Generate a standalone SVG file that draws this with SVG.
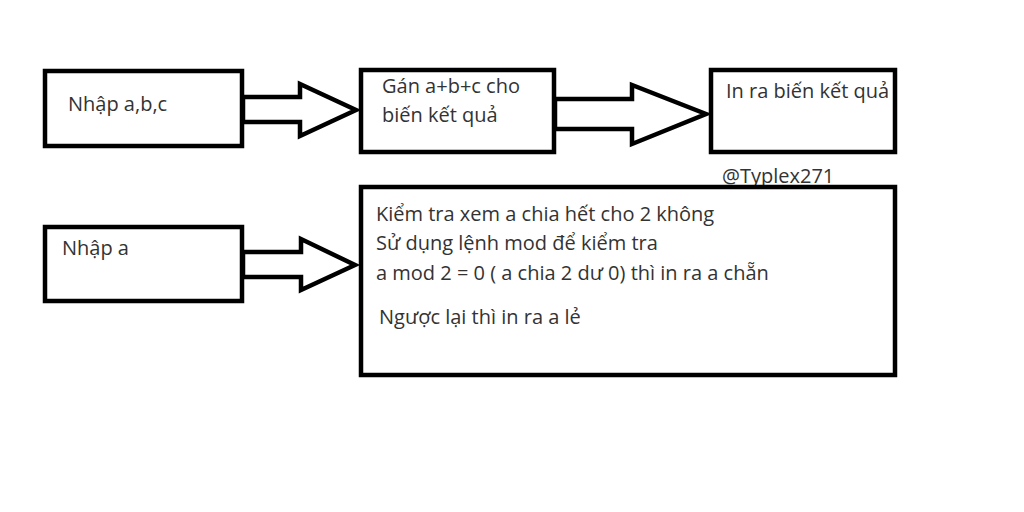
<svg xmlns="http://www.w3.org/2000/svg" width="1024" height="512" viewBox="0 0 1024 512">
<style>
.box{fill:#fff;stroke:#000;stroke-width:4.5}
.arr{fill:#fff;stroke:#000;stroke-width:4.5;stroke-linejoin:miter}
.t{font-family:"Open Sans","Liberation Sans",sans-serif;font-size:20px;fill:#333}
</style>
<rect width="1024" height="512" fill="#fff"/>
<g id="connectors">
<polygon class="arr" points="243,97 300,97 300,84 356,110 300,136 300,122 243,122"/>
<polygon class="arr" points="555,99 632,99 632,85 706,114 632,144 632,129 555,129"/>
<polygon class="arr" points="243,252 301,252 301,239 355,265 301,290 301,277 243,277"/>
</g>
<g id="n1"><rect class="box" x="45" y="71" width="197" height="75"/><text class="t" x="68" y="111">Nhập a,b,c</text></g>
<g id="n2"><rect class="box" x="361" y="70" width="193" height="82"/><text class="t" x="382" y="93">Gán a+b+c cho</text><text class="t" x="382" y="122">biến kết quả</text></g>
<g id="n3"><rect class="box" x="711" y="70" width="184" height="82"/><text class="t" x="726" y="98">In ra biến kết quả</text></g>
<text class="t" x="722" y="183" font-size="18.5">@Typlex271</text>
<g id="n4"><rect class="box" x="45" y="227" width="197" height="74"/><text class="t" x="62" y="255">Nhập a</text></g>
<g id="n5"><rect class="box" x="361" y="187" width="534" height="188"/>
<text class="t" x="376" y="221">Kiểm tra xem a chia hết cho 2 không</text>
<text class="t" x="376" y="250">Sử dụng lệnh mod để kiểm tra</text>
<text class="t" x="376" y="280">a mod 2 = 0 ( a chia 2 dư 0) thì in ra a chẵn</text>
<text class="t" x="379" y="324">Ngược lại thì in ra a lẻ</text>
</g>
</svg>
